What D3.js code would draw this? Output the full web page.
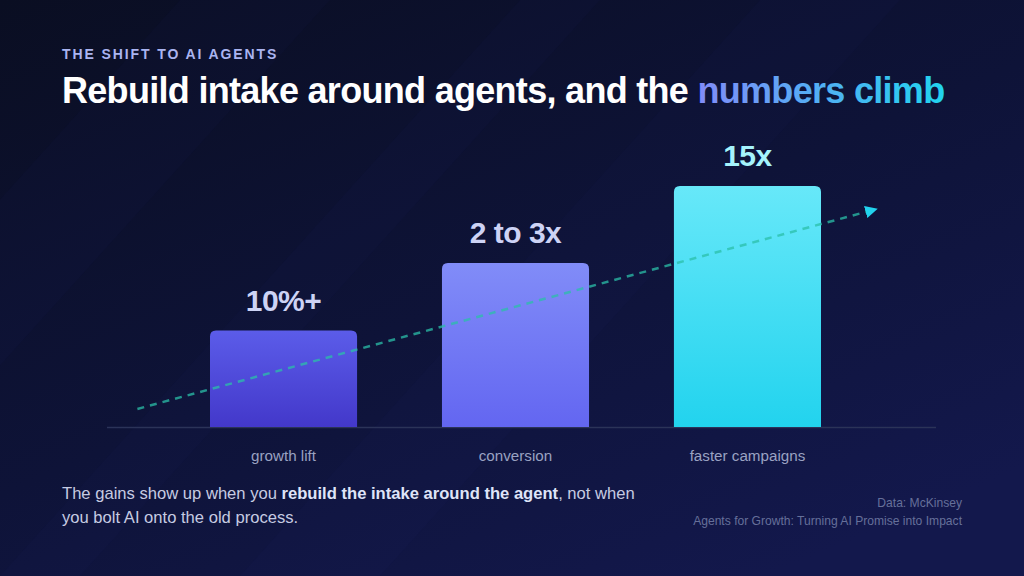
<!DOCTYPE html>
<html>
<head>
<meta charset="utf-8">
<script src="https://cdn.jsdelivr.net/npm/d3@7"></script>
<style>
  html, body { margin: 0; padding: 0; background: #0b1026; }
  svg { display: block; font-family: "Liberation Sans", Arial, sans-serif; }
</style>
</head>
<body>
<svg width="1024" height="576"></svg>
<script>
// chart data
const categories = ['growth lift', 'conversion', 'faster campaigns']
const valueLabels = ['10%+', '2 to 3x', '15x']
// relative bar heights (visual index, max = 100)
const barValues = [40, 68, 100]
// dashed trend: position along the bar index, value on the same scale
const trendIndex = [-0.63, 2.52]
const trendValues = [7.5, 89.5]

const W = 1024
const H = 576
const baseY = 427

const svg = d3.select('svg')
  .attr('viewBox', `0 0 ${W} ${H}`)

const defs = svg.append('defs')

const bg = defs.append('linearGradient')
    .attr('id', 'bg')
    .attr('x1', 0).attr('y1', 0).attr('x2', 0.75).attr('y2', 1)
bg.append('stop').attr('offset', 0).attr('stop-color', '#0a0e22')
bg.append('stop').attr('offset', 0.55).attr('stop-color', '#0e1338')
bg.append('stop').attr('offset', 1).attr('stop-color', '#13184c')

const barColors = [
  ['#5b5ce9', '#4338ca'],
  ['#818cf8', '#6366f1'],
  ['#67e8f9', '#22d3ee'],
]
barColors.forEach((c, i) => {
  const g = defs.append('linearGradient')
      .attr('id', 'bar' + i)
      .attr('x1', 0).attr('y1', 0).attr('x2', 0).attr('y2', 1)
  g.append('stop').attr('offset', 0).attr('stop-color', c[0])
  g.append('stop').attr('offset', 1).attr('stop-color', c[1])
})

const hl = defs.append('linearGradient')
    .attr('id', 'hl')
    .attr('gradientUnits', 'userSpaceOnUse')
    .attr('x1', 700).attr('x2', 942).attr('y1', 0).attr('y2', 0)
hl.append('stop').attr('offset', 0).attr('stop-color', '#818cf8')
hl.append('stop').attr('offset', 1).attr('stop-color', '#22d3ee')

defs.append('marker')
    .attr('id', 'arrow')
    .attr('viewBox', '0 0 10 10')
    .attr('refX', 2).attr('refY', 5)
    .attr('markerWidth', 5).attr('markerHeight', 5)
    .attr('markerUnits', 'strokeWidth')
    .attr('orient', 'auto')
  .append('path')
    .attr('d', 'M0,0 L10,5 L0,10 z')
    .attr('fill', '#22d3ee')

// background
svg.append('rect').attr('width', W).attr('height', H).attr('fill', 'url(#bg)')
const rays = [[180, 330], [520, 600], [760, 900]]
svg.append('g').selectAll('path')
    .data(rays)
  .enter().append('path')
    .attr('d', d => `M${d[0]},0 L${d[1]},0 L${d[1] - 520},${H} L${d[0] - 520},${H} Z`)
    .attr('fill', '#2a35a0')
    .attr('opacity', 0.04)

// header
svg.append('text')
    .attr('x', 62).attr('y', 59)
    .attr('fill', '#aab4f0')
    .attr('font-size', 14)
    .attr('font-weight', 700)
    .attr('letter-spacing', 1.9)
    .text('THE SHIFT TO AI AGENTS')

const title = svg.append('text')
    .attr('x', 62).attr('y', 103)
    .attr('font-size', 36)
    .attr('font-weight', 700)
    .attr('letter-spacing', -0.7)
title.append('tspan').attr('fill', '#ffffff').text('Rebuild intake around agents, and the ')
title.append('tspan').attr('fill', 'url(#hl)').text('numbers climb')

// scales
const x = d3.scaleBand()
    .domain(categories)
    .range([210, 821])
    .paddingInner(0.366)
    .paddingOuter(0)

const y = d3.scaleLinear()
    .domain([0, 100])
    .range([baseY, 186])

const xi = d3.scaleLinear()
    .domain([0, categories.length - 1])
    .range([x(categories[0]) + x.bandwidth() / 2, x(categories[2]) + x.bandwidth() / 2])

// baseline
svg.append('line')
    .attr('x1', 107).attr('x2', 936)
    .attr('y1', baseY + 0.5).attr('y2', baseY + 0.5)
    .attr('stroke', '#2b3358')
    .attr('stroke-width', 1.5)

// bars
svg.append('g').selectAll('path')
    .data(barValues)
  .enter().append('path')
    .attr('d', (d, i) => {
      const x0 = x(categories[i]), w = x.bandwidth()
      const y0 = y(d), r = 6
      return `M${x0},${baseY} L${x0},${y0 + r} Q${x0},${y0} ${x0 + r},${y0} L${x0 + w - r},${y0} Q${x0 + w},${y0} ${x0 + w},${y0 + r} L${x0 + w},${baseY} Z`
    })
    .attr('fill', (d, i) => `url(#bar${i})`)

// value labels
svg.append('g').selectAll('text')
    .data(barValues)
  .enter().append('text')
    .attr('x', (d, i) => x(categories[i]) + x.bandwidth() / 2)
    .attr('y', d => y(d) - 20)
    .attr('text-anchor', 'middle')
    .attr('font-size', 30)
    .attr('font-weight', 700)
    .attr('letter-spacing', -0.5)
    .attr('fill', (d, i) => i === 2 ? '#a5f3fc' : '#cdd3f5')
    .text((d, i) => valueLabels[i])

// category labels
svg.append('g').selectAll('text')
    .data(categories)
  .enter().append('text')
    .attr('x', d => x(d) + x.bandwidth() / 2)
    .attr('y', 461)
    .attr('text-anchor', 'middle')
    .attr('font-size', 15.2)
    .attr('fill', '#9aa2c2')
    .text(d => d)

// trend line
const line = d3.line()
    .x((d, i) => xi(trendIndex[i]))
    .y(d => y(d))

svg.append('path')
    .datum(trendValues)
    .attr('d', line)
    .attr('fill', 'none')
    .attr('stroke', '#2bbfa8')
    .attr('stroke-opacity', 0.75)
    .attr('stroke-width', 2.5)
    .attr('stroke-dasharray', '7 6')
    .attr('marker-end', 'url(#arrow)')

// footer
const note = svg.append('text')
    .attr('x', 62).attr('y', 499)
    .attr('font-size', 16.6)
    .attr('fill', '#c6cbe2')
note.append('tspan').text('The gains show up when you ')
note.append('tspan').attr('font-weight', 700).attr('fill', '#dfe4f8').text('rebuild the intake around the agent')
note.append('tspan').text(', not when')
svg.append('text')
    .attr('x', 62).attr('y', 523)
    .attr('font-size', 16.6)
    .attr('fill', '#c6cbe2')
    .text('you bolt AI onto the old process.')

const source = ['Data: McKinsey', 'Agents for Growth: Turning AI Promise into Impact']
svg.append('g').selectAll('text')
    .data(source)
  .enter().append('text')
    .attr('x', 962)
    .attr('y', (d, i) => 507 + i * 18)
    .attr('text-anchor', 'end')
    .attr('font-size', 12.1)
    .attr('fill', '#66709a')
    .text(d => d)
</script>
</body>
</html>
